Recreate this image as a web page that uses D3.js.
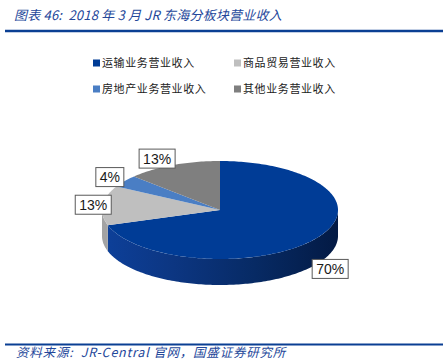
<!DOCTYPE html>
<html>

<head>
    <meta charset="utf-8">
    <title>JR东海分板块营业收入</title>
    <script src="https://cdn.jsdelivr.net/npm/d3@7"></script>
    <style>
        body { margin: 0; background: #fff; }
        text { white-space: pre; }
    </style>
    <script>
    var categories = ["运输业务营业收入", "商品贸易营业收入", "房地产业务营业收入", "其他业务营业收入"];
    var shares = [70, 13, 4, 13];
    var colors = ["#003c96", "#bfbfbf", "#4a7ec4", "#7f7f7f"];
    var sideColors = ["url(#sideBlue)", "#a3a3a3", "#36639e", "#666666"];
    // legend order in the picture: two columns
    var legendOrder = [0, 1, 2, 3];

    var W = 448, H = 361;
    var cx = 220, cy = 210, rx = 118, ry = 49, depth = 26;

    function ell(t, dy) {
        return [cx + rx * Math.sin(t), cy - ry * Math.cos(t) + (dy || 0)];
    }

    function arcPoints(a0, a1, dy) {
        var n = Math.max(2, Math.ceil((a1 - a0) / 0.02));
        var pts = [];
        for (var i = 0; i <= n; i++) {
            pts.push(ell(a0 + (a1 - a0) * i / n, dy));
        }
        return pts;
    }

    function drawChart() {
        var svg = d3.select("body").append("svg").attr("width", W).attr("height", H);

        var defs = svg.append("defs");
        var g = defs.append("linearGradient").attr("id", "sideBlue")
            .attr("gradientUnits", "userSpaceOnUse")
            .attr("x1", cx - rx).attr("y1", 0).attr("x2", cx + rx).attr("y2", 0);
        g.append("stop").attr("offset", "0%").attr("stop-color", "#0d409a");
        g.append("stop").attr("offset", "30%").attr("stop-color", "#0c3682");
        g.append("stop").attr("offset", "65%").attr("stop-color", "#072a64");
        g.append("stop").attr("offset", "100%").attr("stop-color", "#031a44");

        // title + rules
        svg.append("text").attr("x", 14).attr("y", 20)
            .attr("font-family", "Noto Sans CJK SC, sans-serif")
            .attr("font-size", 13).attr("font-style", "italic")
            .attr("letter-spacing", 0.2)
            .attr("fill", "#24479a")
            .text("图表 46:  2018 年 3 月 JR 东海分板块营业收入");
        svg.append("line").attr("x1", 5).attr("x2", 443).attr("y1", 31).attr("y2", 31)
            .attr("stroke", "#0a3f93").attr("stroke-width", 2.5);
        svg.append("line").attr("x1", 5).attr("x2", 443).attr("y1", 344.5).attr("y2", 344.5)
            .attr("stroke", "#0a3f93").attr("stroke-width", 2);
        svg.append("text").attr("x", 16).attr("y", 357)
            .attr("font-family", "Noto Sans CJK SC, sans-serif")
            .attr("font-size", 12.5).attr("font-style", "italic")
            .attr("letter-spacing", 0.8)
            .attr("fill", "#24479a")
            .text("资料来源:  JR-Central 官网，国盛证券研究所");

        // legend
        var leg = svg.append("g").selectAll("g").data(legendOrder).enter().append("g")
            .attr("transform", function(d, i) {
                return "translate(" + (93 + (i % 2) * 141) + "," + (63 + Math.floor(i / 2) * 26) + ")";
            });
        leg.append("rect").attr("x", 0).attr("y", -3.5).attr("width", 7).attr("height", 7)
            .attr("fill", function(d) { return colors[d]; });
        leg.append("text").attr("x", 9).attr("y", 4)
            .attr("font-family", "Noto Sans CJK SC, serif")
            .attr("font-size", 11).attr("letter-spacing", 0.6)
            .attr("fill", "#222")
            .text(function(d) { return categories[d]; });

        // pie
        var pie = d3.pie().sort(null).startAngle(0).endAngle(2 * Math.PI);
        var arcs = pie(shares);
        var line = d3.line();

        // side walls (front half only: angles between PI/2 and 3PI/2)
        var sides = svg.append("g");
        arcs.forEach(function(a, i) {
            var a0 = Math.max(a.startAngle, Math.PI / 2);
            var a1 = Math.min(a.endAngle, 3 * Math.PI / 2);
            if (a1 <= a0) return;
            var top = arcPoints(a0, a1, 0);
            var bot = arcPoints(a0, a1, depth).reverse();
            sides.append("path").attr("d", line(top.concat(bot)) + "Z")
                .attr("fill", sideColors[i]);
        });

        // top faces
        var tops = svg.append("g");
        arcs.forEach(function(a, i) {
            var pts = [[cx, cy]].concat(arcPoints(a.startAngle, a.endAngle, 0));
            tops.append("path").attr("d", line(pts) + "Z")
                .attr("fill", colors[i]);
        });

        // labels
        var labels = svg.append("g");
        arcs.forEach(function(a, i) {
            var m = (a.startAngle + a.endAngle) / 2;
            var s = Math.sin(m), c = -Math.cos(m);
            var x = cx + (rx + 8) * s + 14 * Math.sign(s) * Math.abs(c);
            var y = cy + (ry + 7) * c + (c > 0 ? depth : 0);
            var txt = shares[i] + "%";
            var w = txt.length > 2 ? 36 : 28, h = 19;
            labels.append("rect").attr("x", x - w / 2).attr("y", y - h / 2)
                .attr("width", w).attr("height", h)
                .attr("fill", "#fff").attr("stroke", "#595959").attr("stroke-width", 1);
            labels.append("text").attr("x", x).attr("y", y + 5)
                .attr("text-anchor", "middle")
                .attr("font-family", "Liberation Sans, Arial, sans-serif")
                .attr("font-size", 14).attr("fill", "#1a1a1a")
                .text(txt);
        });
    }
    </script>
</head>

<body onload="drawChart()">
</body>

</html>
